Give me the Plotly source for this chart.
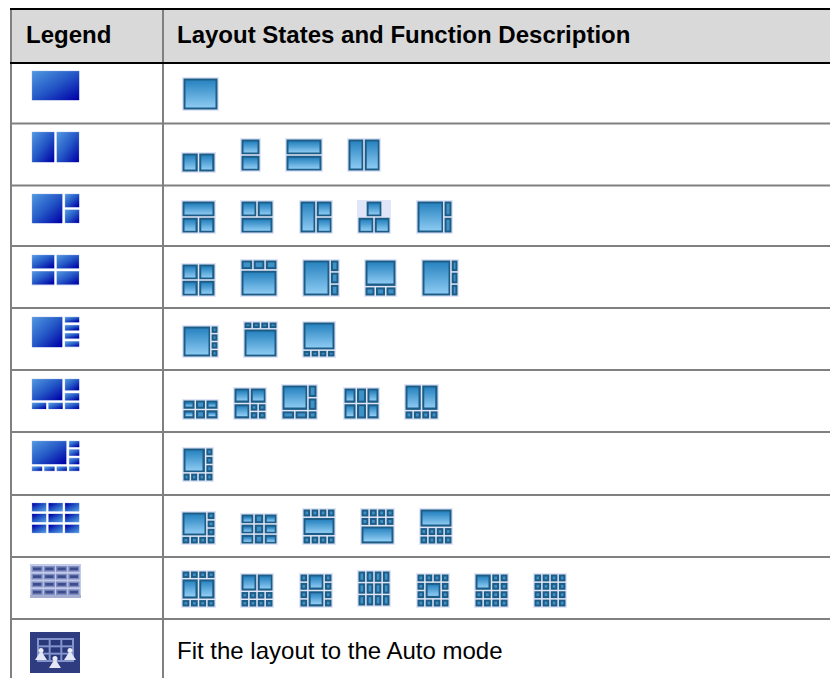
import plotly.graph_objects as go

# ---------- table content ----------
HEADERS = ["Legend", "Layout States and Function Description"]
LAST_ROW_TEXT = "Fit the layout to the Auto mode"

# Layout patterns: (column weights, row weights, cell map; equal letters form one pane)
ONE = ([1], [1], ["A"])
TWO_H = ([1, 1], [1], ["AB"])
TWO_V = ([1], [1, 1], ["A", "B"])
T_2B = ([1, 1], [1, 1], ["AA", "BC"])
T_2T = ([1, 1], [1, 1], ["AB", "CC"])
T_L = ([1, 1], [1, 1], ["AB", "AC"])
PYR = ([1, 1, 1, 1], [1, 1], [".AA.", "BBCC"])
BIG_R2 = ([3.2, 1], [1, 1], ["AB", "AC"])
QUAD = ([1, 1], [1, 1], ["AB", "CD"])
TOP3 = ([1, 1, 1], [1, 2.6], ["ABC", "DDD"])
BIG_R3 = ([3, 1], [1, 1, 1], ["AB", "AC", "AD"])
BOT3 = ([1, 1, 1], [2.8, 1], ["AAA", "BCD"])
BIG_R3N = ([4, 1], [1, 1, 1], ["AB", "AC", "AD"])
BIG_R4 = ([3.8, 1], [1, 1, 1, 1], ["AB", "AC", "AD", "AE"])
TOP4 = ([1, 1, 1, 1], [1, 4], ["ABCD", "EEEE"])
BOT4 = ([1, 1, 1, 1], [4, 1], ["AAAA", "BCDE"])
SIX = ([1.2, 1, 1.2], [1, 1], ["ABC", "DEF"])
SEVEN = ([2, 1, 1], [2, 1, 1], ["ABB", "CDE", "CFG"])
SIX_B = ([1.4, 1.4, 1], [1.5, 1.5, 1], ["AAB", "AAC", "DEF"])
TWO_4 = ([1, 1, 1, 1], [3, 1], ["AABB", "CDEF"])
L7 = ([1, 1, 1, 1], [1, 1, 1, 1], ["AAAB", "AAAC", "AAAD", "EFGH"])
NINE = ([1.2, 0.9, 1.2], [1, 1, 1], ["ABC", "DEF", "GHI"])
MID = ([1, 1, 1, 1], [1, 2.2, 1], ["ABCD", "EEEE", "FGHI"])
TOP8 = ([1, 1, 1, 1], [1, 1, 2.2], ["ABCD", "EFGH", "IIII"])
BOT8 = ([1, 1, 1, 1], [2.2, 1, 1], ["AAAA", "BCDE", "FGHI"])
TMB = ([1, 1, 1, 1], [1, 2.6, 1], ["ABCD", "EEFF", "GHIJ"])
TWO_8 = ([1, 1, 1, 1], [2.2, 1, 1], ["AABB", "CDEF", "GHIJ"])
CROSS = ([1, 2, 1], [1, 1, 1, 1], ["ABC", "DBE", "FGH", "IGJ"])
TALL12 = ([1, 1, 1, 1], [1, 1, 1], ["ABCD", "EFGH", "IJKL"])
CENTER = ([1, 1, 1, 1], [1, 1, 1, 1], ["ABCD", "EFFG", "HFFI", "JKLM"])
CORNER = ([1, 1, 1, 1], [1, 1, 1, 1], ["AABC", "AADE", "FGHI", "JKLM"])
ALL16 = ([1, 1, 1, 1], [1, 1, 1, 1], ["ABCD", "EFGH", "IJKL", "MNOP"])

# Legend column: blue pictograms, one per table row
LEGEND_PATTERNS = [
    ONE,
    ([1, 1], [1], ["AB"]),
    ([2, 1], [1, 1], ["AB", "AC"]),
    QUAD,
    ([2, 1], [1, 1, 1, 1], ["AB", "AC", "AD", "AE"]),
    ([1, 1, 1], [1.55, 1.05, 0.95], ["AAB", "AAC", "DEF"]),
    ([1, 1, 1, 1], [1.05, 1.05, 1.05, 0.85], ["AAAB", "AAAC", "AAAD", "EFGH"]),
    ([1, 1, 1], [1, 1, 1], ["ABC", "DEF", "GHI"]),
]
LEGEND_BOXES = [
    (32, 71, 79, 100), (32, 132, 79, 162), (32, 194, 79, 223), (32, 255, 79, 285),
    (32, 317, 79, 347), (32, 379, 79, 409), (32, 441, 79, 471), (32, 503, 79, 533),
]

# Layout-state icons: (pattern, left, top, right, bottom)
ICONS = [
    (ONE, 182, 77, 219, 111),
    (TWO_H, 181, 152, 216, 173), (TWO_V, 240, 138, 261, 172), (TWO_V, 285, 138, 323, 172), (TWO_H, 347, 138, 381, 172),
    (T_2B, 181, 200, 216, 234), (T_2T, 240, 200, 274, 234), (T_L, 299, 200, 333, 234), (PYR, 357, 200, 391, 234), (BIG_R2, 416, 200, 453, 234),
    (QUAD, 181, 263, 216, 297), (TOP3, 240, 259, 278, 297), (BIG_R3, 302, 259, 340, 297), (BOT3, 364, 259, 397, 297), (BIG_R3N, 421, 259, 459, 297),
    (BIG_R4, 182, 325, 219, 358), (TOP4, 243, 321, 278, 358), (BOT4, 302, 321, 336, 358),
    (SIX, 182, 399, 219, 420), (SEVEN, 233, 387, 267, 420), (SIX_B, 281, 384, 318, 420), (SIX, 343, 387, 380, 420), (TWO_4, 404, 384, 439, 420),
    (L7, 182, 447, 214, 482),
    (L7, 181, 511, 216, 545), (NINE, 240, 513, 278, 545), (MID, 302, 508, 336, 545), (TOP8, 360, 508, 395, 545), (BOT8, 419, 508, 453, 545),
    (TMB, 181, 570, 216, 608), (TWO_8, 240, 573, 274, 608), (CROSS, 299, 573, 333, 608), (TALL12, 357, 570, 391, 607),
    (CENTER, 416, 573, 450, 608), (CORNER, 474, 573, 509, 608), (ALL16, 533, 573, 567, 608),
]

ROW_LINES = [123.5, 185.5, 246, 308, 370, 432, 495, 557, 619]

# ---------- helpers ----------
W, H = 830, 678
shapes, traces = [], []
ICON_SCALE = [[0, "#2c86c2"], [1, "#8ccaf2"]]
TILE_SCALE = [[0, "#5096e0"], [0.5, "#2458c6"], [1, "#0000a8"]]
TILE_SCALE_R = [[0, "#0000a8"], [0.5, "#2458c6"], [1, "#5096e0"]]


def rect(x0, y0, x1, y1, color, layer="below"):
    shapes.append(dict(type="rect", xref="x", yref="y", x0=x0, y0=y0, x1=x1, y1=y1,
                       fillcolor=color, line=dict(width=0), layer=layer))


def panes(pattern, x0, y0, x1, y1):
    cols, rows, grid = pattern
    cw, rw = (x1 - x0) / sum(cols), (y1 - y0) / sum(rows)
    xs, ys = [x0], [y0]
    for c in cols:
        xs.append(xs[-1] + c * cw)
    for r in rows:
        ys.append(ys[-1] + r * rw)
    found = {}
    for j, line in enumerate(grid):
        for i, ch in enumerate(line):
            if ch == ".":
                continue
            a = found.setdefault(ch, [i, j, i, j])
            a[2], a[3] = max(a[2], i), max(a[3], j)
    return [(xs[a[0]], ys[a[1]], xs[a[2] + 1], ys[a[3] + 1]) for a in found.values()]


def vertical_gradient(x0, y0, x1, y1):
    n = max(int(round(y1 - y0)), 1)
    step = (y1 - y0) / n
    traces.append(go.Heatmap(
        x=[x0, x1], y=[y0 + k * step for k in range(n + 1)],
        z=[[k / max(n - 1, 1)] for k in range(n)],
        colorscale=ICON_SCALE, zmin=0, zmax=1, showscale=False, hoverinfo="skip"))


def diagonal_gradient(x0, y0, x1, y1, scale):
    nx, ny = max(int(round(x1 - x0)), 1), max(int(round(y1 - y0)), 1)
    dx, dy = (x1 - x0) / nx, (y1 - y0) / ny
    traces.append(go.Heatmap(
        x=[x0 + k * dx for k in range(nx + 1)], y=[y0 + k * dy for k in range(ny + 1)],
        z=[[(i / max(nx - 1, 1) + j / max(ny - 1, 1)) / 2 for i in range(nx)] for j in range(ny)],
        colorscale=scale, zmin=0, zmax=1, showscale=False, hoverinfo="skip"))


# ---------- table grid ----------
rect(0, 0, W, H, "#ffffff")
rect(11, 10, W, 62, "#d9d9d9")
for y in ROW_LINES:
    rect(10, y - 1, W, y + 1, "#808080", "above")
rect(10, 10, 12, H, "#808080", "above")
rect(162, 10, 164, H, "#808080", "above")
rect(10, 8, W, 10, "#000000", "above")
rect(10, 62, W, 64, "#000000", "above")

# ---------- legend pictograms ----------
for idx, (pat, box) in enumerate(zip(LEGEND_PATTERNS, LEGEND_BOXES)):
    x0, y0, x1, y1 = box
    scale = TILE_SCALE_R if idx == 7 else TILE_SCALE
    for (a, b, c, d) in panes(pat, x0 - 1.25, y0 - 1.25, x1 + 1.25, y1 + 1.25):
        rect(a + 1, b + 1, c - 1, d - 1, "#a8bce8")
        diagonal_gradient(a + 1.4, b + 1.4, c - 1.4, d - 1.4, scale)

# row 9: blurred small-tiles pictogram
rect(30, 564, 81, 598, "#c4cbea")
rect(30, 595, 81, 598, "#a5aed0")
for (a, b, c, d) in panes(ALL16, 31, 565, 80, 596):
    rect(a + 0.5, b + 1, c - 0.5, d - 1, "#7f8cc0")
    rect(a + 2, b + 2.5, c - 2, d - 2.5, "#3c4c8c")

# row 10: auto-mode pictogram
rect(30, 632, 80, 673, "#303c80")
rect(37, 638, 74, 662, "#8493cc")
for (a, b, c, d) in panes(([1, 1, 1], [1, 1, 1], ["ABC", "DEF", "GHI"]), 38, 639, 73, 661):
    rect(a + 1, b + 1, c - 1, d - 1, "#283878")
for cx, cy, s in [(41, 652, 1.0), (70, 652, 1.0), (55, 660, 1.0)]:
    shapes.append(dict(type="circle", xref="x", yref="y", x0=cx - 2.5 * s, y0=cy - 4 * s, x1=cx + 2.5 * s, y1=cy + 1 * s,
                       fillcolor="#e8ecf8", line=dict(width=0), layer="below"))
    shapes.append(dict(type="path", xref="x", yref="y", layer="below", fillcolor="#e4e8f6", line=dict(width=0),
                       path=f"M {cx-1.5} {cy+1} L {cx+1.5} {cy+1} L {cx+6} {cy+8} L {cx-6} {cy+8} Z"))

# ---------- layout-state icons ----------
for pat, x0, y0, x1, y1 in ICONS:
    rect(x0, y0, x1, y1, "#e0e6f7")
    for (a, b, c, d) in panes(pat, x0 + 0.75, y0 + 0.75, x1 - 0.75, y1 - 0.75):
        a, b, c, d = a + 0.75, b + 0.75, c - 0.75, d - 0.75
        rect(a, b, c, d, "#1c5c86")
        inset = 2.0
        ia, ib, ic, id_ = a + inset, b + inset, c - inset, d - inset
        if ic - ia > 7 and id_ - ib > 4:
            vertical_gradient(ia, ib, ic, id_)
        elif ic > ia and id_ > ib:
            rect(ia, ib, ic, id_, "#3f92c8")

# ---------- text ----------
def label(x, y, text, bold=False):
    return dict(x=x, y=y, xref="x", yref="y", text=f"<b>{text}</b>" if bold else text, showarrow=False,
                xanchor="left", yanchor="middle",
                font=dict(family="Liberation Sans", size=24, color="#000000"))


annotations = [
    label(24, 34, HEADERS[0], True),
    label(175, 34, HEADERS[1], True),
    label(175, 650, LAST_ROW_TEXT),
]

fig = go.Figure(traces)
fig.update_layout(
    width=W, height=H, margin=dict(l=0, r=0, t=0, b=0), paper_bgcolor="#ffffff", plot_bgcolor="#ffffff",
    xaxis=dict(range=[0, W], visible=False, fixedrange=True),
    yaxis=dict(range=[H, 0], visible=False, fixedrange=True),
    shapes=shapes, annotations=annotations, showlegend=False,
)
fig.write_html("out.html", config=dict(displayModeBar=False),
               post_script="document.body.style.margin='0';document.documentElement.style.overflow='hidden';")
